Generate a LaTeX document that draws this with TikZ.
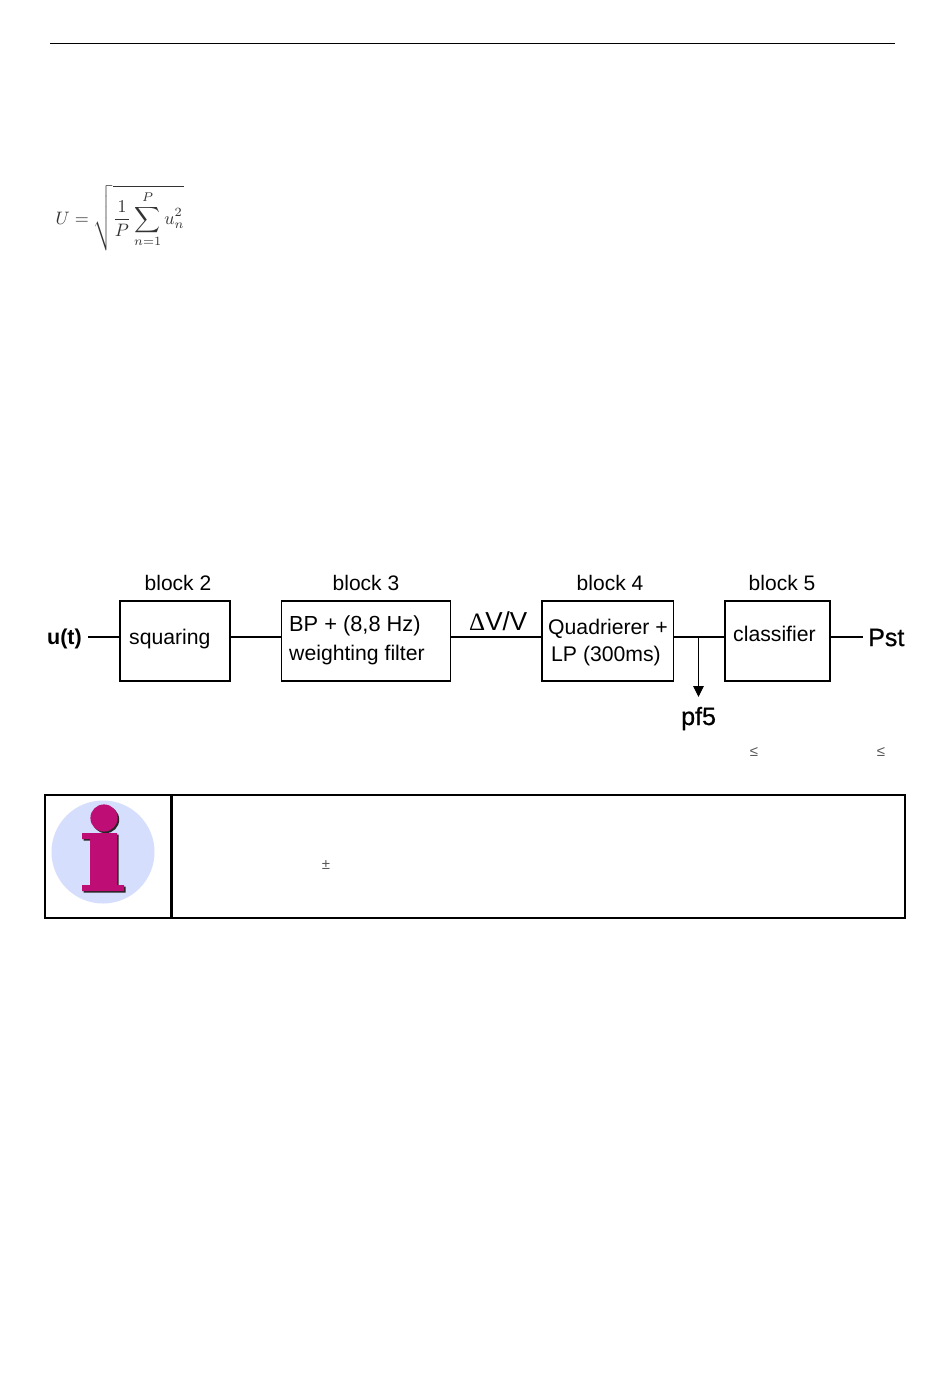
\documentclass[tikz,border=0pt]{standalone}
\usepackage{amsmath}
\usepackage{fontspec}
\setmainfont{Liberation Sans}
\newfontfamily\semibold[FakeBold=0.8]{Liberation Sans}
\newfontfamily\deltafont{Liberation Serif}
\usetikzlibrary{arrows.meta}
\definecolor{infoblue}{RGB}{214,222,253}
\definecolor{infomagenta}{RGB}{190,14,118}
\tikzset{
  blockbox/.style={draw=black,line width=1.5pt,fill=white,inner sep=0pt},
  wire/.style={draw=black,line width=2pt},
  blocklabel/.style={font=\fontsize{21}{25}\selectfont,inner sep=0pt,anchor=center},
  blocktext/.style={font=\fontsize{21.2}{25}\selectfont,inner sep=0pt,anchor=base west},
  signal/.style={font=\fontsize{25}{30}\selectfont\semibold,inner sep=0pt,anchor=base west},
  straymark/.style={font=\fontsize{15}{17}\selectfont,text=black!65,inner sep=0pt},
  frameline/.style={draw=black,line width=2pt},
  tap/.style={draw=black,line width=1pt,-{Triangle[length=11pt,width=10.5pt]}}
}
\begin{document}
\begin{tikzpicture}[x=1pt,y=-1pt]
\useasboundingbox[fill=white] (0,0) rectangle (950,1398);
% head rule
\coordinate (ruleL) at (50,43);
\coordinate (ruleR) at (895,43);
\draw[black,line width=1pt] (ruleL) -- (ruleR);
% formula
\node[scale=1.8,inner sep=0pt,text=black!80] (formula) at (120,218)
  {$U=\sqrt{\dfrac{1}{P}\displaystyle\sum_{n=1}^{P}u_n^2}$};
% blocks
\node[blockbox,minimum width=110pt,minimum height=80pt] (b2) at (175,641) {};
\node[blockbox,minimum width=169pt,minimum height=80pt] (b3) at (365.8,641) {};
\node[blockbox,minimum width=131.5pt,minimum height=80pt] (b4) at (607.5,641) {};
\node[blockbox,minimum width=105pt,minimum height=80pt] (b5) at (777.7,641) {};
% block titles
\node[blocklabel] (t2) at (178,583) {block 2};
\node[blocklabel] (t3) at (366,583) {block 3};
\node[blocklabel] (t4) at (610,583) {block 4};
\node[blocklabel] (t5) at (782,583) {block 5};
% block texts
\node[blocktext] (s2) at (129,644) {squaring};
\node[blocktext,font=\fontsize{21.8}{25}\selectfont] (s3a) at (289,631) {BP + (8,8 Hz)};
\node[blocktext] (s3b) at (289,660) {weighting filter};
\node[blocktext] (s4a) at (548,634.5) {Quadrierer +};
\node[blocktext] (s4b) at (551,661) {LP (300ms)};
\node[blocktext] (s5) at (733,641) {classifier};
% signals
\node[font=\fontsize{21.5}{26}\selectfont\bfseries,inner sep=0pt,anchor=base west] (ut) at (47,644) {u(t)};
\node[signal] (pst) at (868,646) {Pst};
\node[signal] (pf) at (681,725) {pf5};
\node[font=\fontsize{26}{30}\selectfont,inner sep=0pt,anchor=base west] (dv) at (469,630.5)
  {{\deltafont\fontsize{25}{26}\selectfont Δ}V/V};
% connectors
\coordinate (utR) at (88,637);
\coordinate (pstL) at (863,637);
\coordinate (tee) at (698.5,637);
\coordinate (tapEnd) at (698.5,697);
\draw[wire] (utR) -- (b2.west |- utR);
\draw[wire] (b2.east |- utR) -- (b3.west |- utR);
\draw[wire] (b3.east |- utR) -- (b4.west |- utR);
\draw[wire] (b4.east |- utR) -- (b5.west |- utR);
\draw[wire] (b5.east |- utR) -- (pstL);
\draw[tap] (tee) -- (tapEnd);
% stray symbols
\node[straymark] (le1) at (754,751.5) {≤};
\node[straymark] (le2) at (881,751.5) {≤};
\node[straymark] (pm) at (326,865.5) {±};
% info frame
\draw[frameline] (45,794.5) rectangle (905,917.5);
\draw[draw=black,line width=3pt] (171.5,794.5) -- (171.5,917.5);
% info icon
\fill[infoblue] (103,852) circle (51.5);
\begin{scope}[shift={(1.6,1.6)},black!85]
  \fill (104,818) circle (13.6);
  \fill (82,833) -- (117,833) -- (117,885) -- (124,885) -- (124,891) -- (82,891) -- (82,885) -- (90,885) -- (90,839) -- (82,839) -- cycle;
\end{scope}
\fill[infomagenta] (104,818) circle (13.6);
\fill[infomagenta] (82,833) -- (117,833) -- (117,885) -- (124,885) -- (124,891) -- (82,891) -- (82,885) -- (90,885) -- (90,839) -- (82,839) -- cycle;
\end{tikzpicture}
\end{document}
